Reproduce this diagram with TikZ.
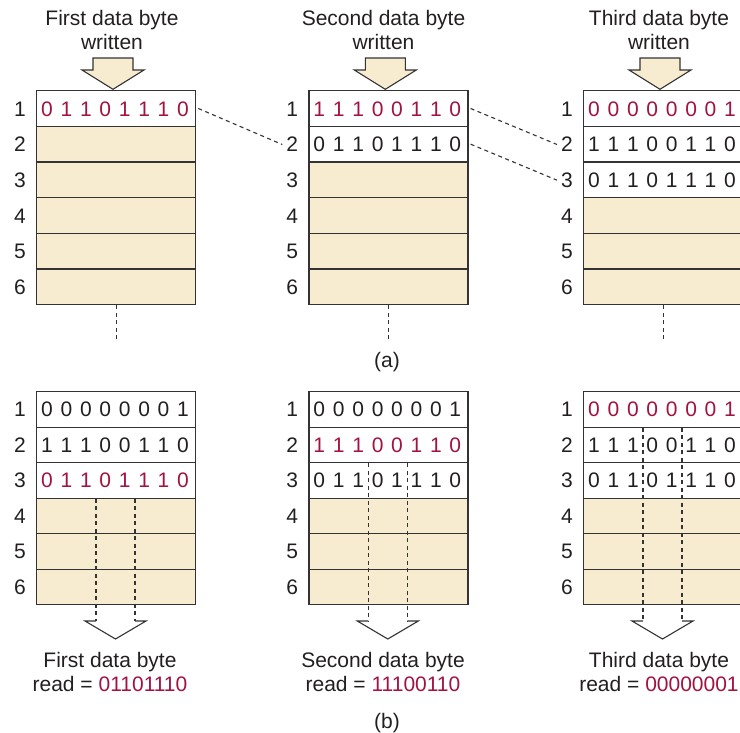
\documentclass[tikz,border=0pt]{standalone}
\usepackage{fontspec}
\setmainfont{Liberation Sans}
\usetikzlibrary{calc}
\definecolor{ink}{HTML}{231F20}
\definecolor{bitred}{HTML}{A3133F}
\definecolor{cream}{HTML}{F8ECD0}
\definecolor{edgec}{HTML}{333333}
\newcommand\bitsrow[5]{\foreach \bb [count=\kk from 0] in {#5} {\node[text=#4] (#1x\kk) at ({#2+11+19.43*\kk},#3) {\bb};}}
\begin{document}
\begin{tikzpicture}[x=1pt,y=-1pt,
  every node/.style={font=\fontsize{21}{24}\selectfont, text=ink, inner sep=0pt},
  cell/.style={draw=edgec, line width=1.3pt, minimum width=159pt, anchor=north west},
  dashline/.style={draw=edgec, line width=1.1pt, dash pattern=on 4pt off 3.5pt},
  wbox/.style={draw=edgec, line width=1.1pt, fill=cream, line join=miter},
  rbox/.style={draw=edgec, line width=1.1pt}]
\useasboundingbox (0,0) rectangle (740,732);
\clip (0,0) rectangle (740,732);

% ---------- section (a) ----------
\foreach \cc/\L in {1/36,2/308.3,3/583}{
  \foreach \rr in {1,...,6}{
    \ifnum\rr>\cc \def\fc{cream}\else\def\fc{white}\fi
    \node[cell, minimum height=35.67pt, fill=\fc] (a\cc\rr) at (\L,{90+35.67*(\rr-1)}) {};
    \node (al\cc\rr) at (\L-16,{90+35.67*(\rr-0.5)+1}) {\rr};
  }
}
\bitsrow{ba11}{36}{108.8}{bitred}{0,1,1,0,1,1,1,0}
\bitsrow{ba21}{308.3}{108.8}{bitred}{1,1,1,0,0,1,1,0}
\bitsrow{ba22}{308.3}{144.5}{ink}{0,1,1,0,1,1,1,0}
\bitsrow{ba31}{583}{108.8}{bitred}{0,0,0,0,0,0,0,1}
\bitsrow{ba32}{583}{144.5}{ink}{1,1,1,0,0,1,1,0}
\bitsrow{ba33}{583}{180.2}{ink}{0,1,1,0,1,1,1,0}

% write arrows and titles
\foreach \cc/\X/\T in {1/113/First,2/385.3/Second,3/660/Third}{
  \draw[wbox] (\X-20,58) -- (\X+20,58) -- (\X+20,70) -- (\X+31,70) -- (\X,89.3) -- (\X-31,70) -- (\X-20,70) -- cycle;
}
\foreach \cc/\X/\T in {1/112/First,2/383.5/Second,3/659/Third}{
  \node[anchor=base] (wt\cc) at (\X,25) {\T\ data byte};
  \node[anchor=base] (wu\cc) at (\X,49) {written};
}

% shift connectors
\draw[dashline] ([xshift=2pt]a11.east) -- ([xshift=-4pt]al22.west);
\draw[dashline] ([xshift=2pt]a21.east) -- ([xshift=-4pt]al32.west);
\draw[dashline] ([xshift=2pt]a22.east) -- ([xshift=-4pt]al33.west);

\foreach \cc in {1,2,3}{
  \draw[dashline] (a\cc6.south) -- ++(0,37);
}
\node (cap-a) at (387,362) {(a)};

% ---------- section (b) ----------
\foreach \cc/\L in {1/36,2/308.3,3/583}{
  \foreach \rr in {1,...,6}{
    \ifnum\rr>3 \def\fc{cream}\else\def\fc{white}\fi
    \node[cell, minimum height=35.5pt, fill=\fc] (b\cc\rr) at (\L,{391+35.5*(\rr-1)}) {};
    \node (bl\cc\rr) at (\L-16,{391+35.5*(\rr-0.5)+1}) {\rr};
  }
}
\bitsrow{bb11}{36}{409.75}{ink}{0,0,0,0,0,0,0,1}
\bitsrow{bb12}{36}{445.25}{ink}{1,1,1,0,0,1,1,0}
\bitsrow{bb13}{36}{480.75}{bitred}{0,1,1,0,1,1,1,0}
\bitsrow{bb21}{308.3}{409.75}{ink}{0,0,0,0,0,0,0,1}
\bitsrow{bb22}{308.3}{445.25}{bitred}{1,1,1,0,0,1,1,0}
\bitsrow{bb23}{308.3}{480.75}{ink}{0,1,1,0,1,1,1,0}
\bitsrow{bb31}{583}{409.75}{bitred}{0,0,0,0,0,0,0,1}
\bitsrow{bb32}{583}{445.25}{ink}{1,1,1,0,0,1,1,0}
\bitsrow{bb33}{583}{480.75}{ink}{0,1,1,0,1,1,1,0}

% read arrows
\foreach \cc/\C/\s in {1/115.5/3,2/387.8/2,3/662.5/1}{
  \coordinate (hl\cc) at (\C-19.5,621);
  \coordinate (hr\cc) at (\C+19.5,621);
  \coordinate (tip\cc) at (\C,639);
  \draw[dashline] (b\cc\s.south -| hl\cc) -- (hl\cc);
  \draw[dashline] (b\cc\s.south -| hr\cc) -- (hr\cc);
  \draw[rbox] (hl\cc) -- ++(-11,0) -- (tip\cc) -- ($(hr\cc)+(11,0)$) -- (hr\cc);
}
\foreach \cc/\X/\T/\V in {1/110/First/01101110,2/383/Second/11100110,3/659/Third/00000001}{
  \node[anchor=base] (rt\cc) at (\X,667) {\T\ data byte};
  \node[anchor=base] (rv\cc) at (\X,691) {read = \textcolor{bitred}{\V}};
}
\node (cap-b) at (387,723) {(b)};
\end{tikzpicture}
\end{document}
